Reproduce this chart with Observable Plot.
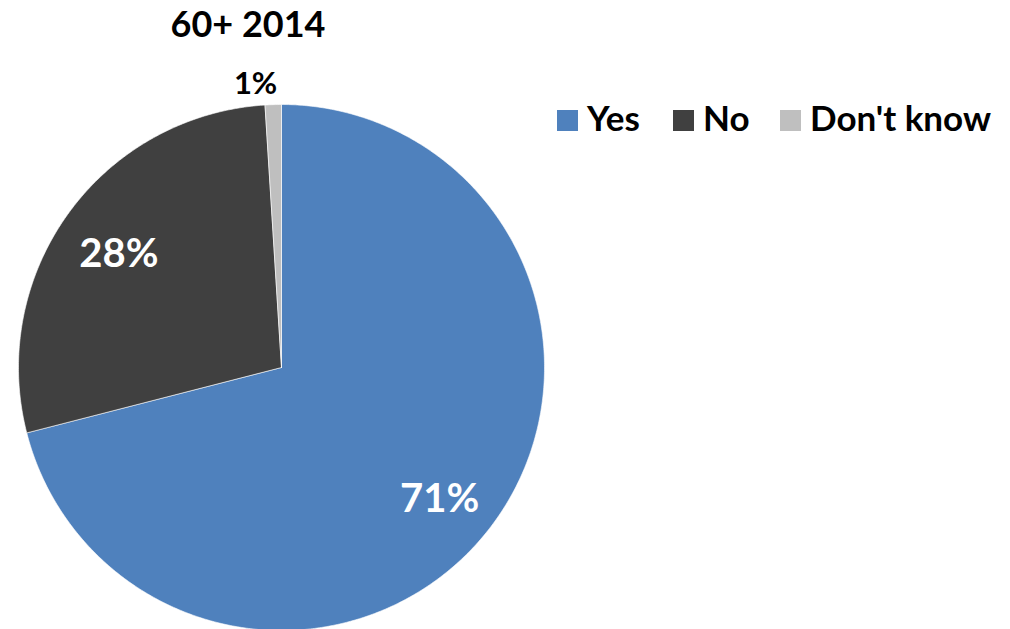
<!DOCTYPE html>
<html><head><meta charset="utf-8">
<script src="https://cdn.jsdelivr.net/npm/d3@7"></script>
<script src="https://cdn.jsdelivr.net/npm/@observablehq/plot@0.6"></script>
<style>
body{margin:0;background:#fff;font-family:Lato,"Open Sans",sans-serif}
#wrap{position:relative;width:1010px;height:629px;overflow:hidden}
#chart{position:absolute;left:0;top:0}
#title{position:absolute;left:98px;width:300px;top:5px;text-align:center;font-weight:700;font-size:36px;line-height:36px;color:#000}
.sw{position:absolute;width:21px;height:21px;top:110px}
.lt{position:absolute;top:100px;font-weight:700;font-size:35px;line-height:35px;color:#000;white-space:nowrap}
</style></head>
<body>
<div id="wrap">
  <div id="chart"></div>
  <div id="title"></div>
  <div id="legend"></div>
</div>
<script>
const titleText = "60+ 2014";
const categories = ["Yes", "No", "Don't know"];
const values = [71, 28, 1];
const labels = ["71%", "28%", "1%"];
const colors = ["#4F81BD", "#404040", "#BFBFBF"];
const labelColors = ["#ffffff", "#ffffff", "#000000"];

document.getElementById("title").textContent = titleText;

// layout (pixels)
const W = 1010, H = 629, cx = 281, cy = 367, R = 263;
const labelRadius = [0.78, 0.75, 1.08];
const labelSize = [40, 40, 31];
const labelDx = [-4, -3, -17];
const labelDy = [6, 3, 0];

const total = d3.sum(values);
let cum = 0;
const slices = categories.map((c, i) => {
  const a0 = cum / total, a1 = (cum + values[i]) / total;
  cum += values[i];
  return {cat: c, a0, a1, value: values[i], label: labels[i], i};
});

const pts = [];
for (const s of slices) {
  const n = Math.max(2, Math.ceil((s.a1 - s.a0) * 720));
  pts.push({cat: s.cat, x: 0, y: 0});
  for (let k = 0; k <= n; k++) {
    const t = s.a0 + (s.a1 - s.a0) * k / n;
    pts.push({cat: s.cat, x: Math.sin(2 * Math.PI * t), y: Math.cos(2 * Math.PI * t)});
  }
  pts.push({cat: s.cat, x: 0, y: 0});
}

const labelData = slices.map(s => {
  const m = (s.a0 + s.a1) / 2, r = labelRadius[s.i];
  return {label: s.label, x: r * Math.sin(2 * Math.PI * m), y: r * Math.cos(2 * Math.PI * m), i: s.i};
});

const xDomain = [-cx / R, (W - cx) / R];
const yDomain = [-(H - cy) / R, cy / R];

const marks = slices.map(s => Plot.line(pts.filter(p => p.cat === s.cat), {
  x: "x", y: "y", fill: colors[s.i], stroke: "#ffffff", strokeWidth: 0.6, curve: "linear"
}));
labelData.forEach(d => {
  marks.push(Plot.text([d], {
    x: "x", y: "y", text: "label", fill: labelColors[d.i], fontSize: labelSize[d.i],
    fontWeight: 700, fontFamily: "Lato, 'Open Sans', sans-serif", dx: labelDx[d.i], dy: labelDy[d.i]
  }));
});

const chart = Plot.plot({
  width: W, height: H, margin: 0,
  x: {domain: xDomain, range: [0, W], axis: null},
  y: {domain: yDomain, range: [H, 0], axis: null},
  style: {background: "transparent"},
  marks
});
document.getElementById("chart").appendChild(chart);

// legend
const legendX = [557, 673, 780];
const legend = document.getElementById("legend");
categories.forEach((c, i) => {
  const sw = document.createElement("div");
  sw.className = "sw"; sw.style.left = legendX[i] + "px"; sw.style.background = colors[i];
  legend.appendChild(sw);
  const t = document.createElement("div");
  t.className = "lt"; t.style.left = (legendX[i] + 30) + "px"; t.textContent = c;
  legend.appendChild(t);
});
</script>
</body></html>
